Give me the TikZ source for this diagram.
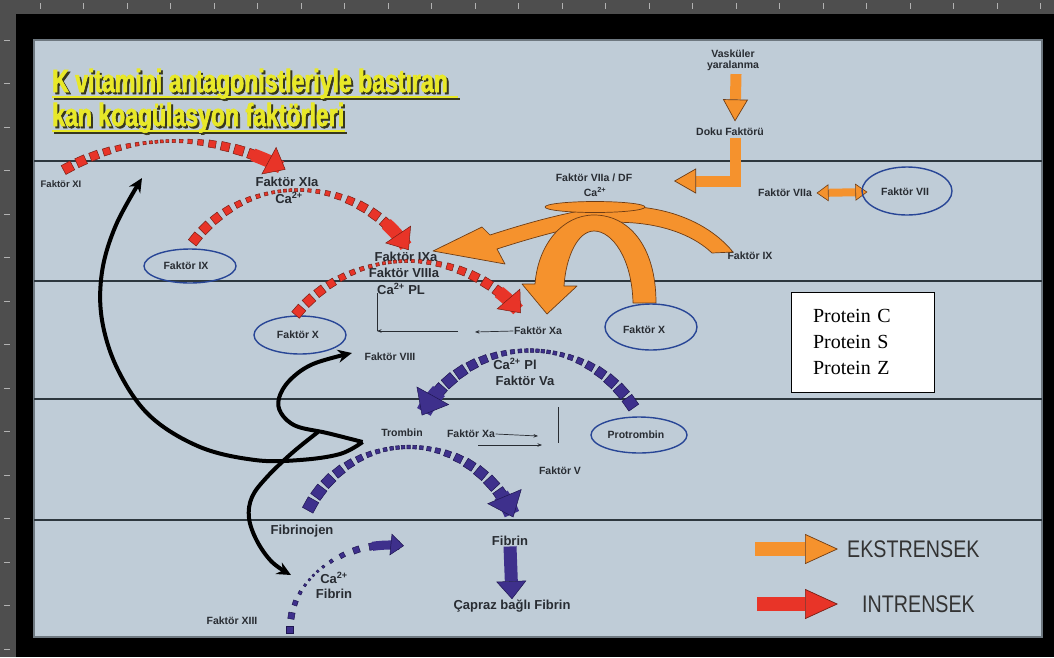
\documentclass[tikz,border=0pt]{standalone}
\usepackage{fontspec}
\setmainfont{Liberation Sans}
\newfontfamily\serifface{Liberation Serif}
\newfontfamily\titleface[FakeStretch=0.72, BoldFeatures={FakeBold=2}]{Liberation Sans}
\newfontfamily\legendface[FakeStretch=0.82]{Liberation Sans}
\usetikzlibrary{arrows.meta, calc, positioning}

\definecolor{panelbg}{RGB}{191,204,215}
\definecolor{panelrim}{RGB}{110,120,128}
\definecolor{rulergray}{RGB}{78,78,78}
\definecolor{gridline}{RGB}{45,55,62}
\definecolor{beadred}{RGB}{232,52,40}
\definecolor{beadrededge}{RGB}{120,30,20}
\definecolor{beadblue}{RGB}{62,48,140}
\definecolor{beadblueedge}{RGB}{30,22,80}
\definecolor{extorange}{RGB}{245,146,45}
\definecolor{extorangeedge}{RGB}{110,60,20}
\definecolor{ringblue}{RGB}{40,70,150}
\definecolor{labelgray}{RGB}{40,44,50}
\definecolor{titleyellow}{RGB}{232,232,40}
\definecolor{titleshadow}{RGB}{55,55,30}

\tikzset{
  smalllbl/.style={font=\bfseries\fontsize{10.5}{11}\selectfont, text=labelgray, inner sep=0.5pt},
  medlbl/.style={font=\bfseries\fontsize{13}{13.5}\selectfont, text=labelgray, inner sep=0.5pt},
  ring/.style={draw=ringblue, line width=1.4pt},
  hline/.style={draw=gridline, line width=1.6pt},
  bead/.style={rectangle, inner sep=0pt, fill=#1, draw=#1edge, line width=0.5pt},
  feedback/.style={line width=4pt, black, -{Stealth[length=14pt,width=13pt]}},
  thinarrow/.style={line width=0.7pt, labelgray, -{Stealth[length=4.5pt,width=3.5pt]}},
  thinline/.style={line width=0.7pt, labelgray},
  extshape/.style={fill=extorange, draw=extorangeedge, line width=0.7pt, line join=round},
  blockflow/.style={line width=11pt, extorange,
    -{Triangle[length=22pt,width=25pt,fill=extorange,color=extorangeedge,line width=0.7pt]}},
  titletext/.style={anchor=base west, inner sep=0pt, text height=21pt, text depth=0pt, text=#1,
    font=\titleface\bfseries\fontsize{32}{32}\selectfont},
}

% dotted arc: centre, radii, first angle, last bead, tip angle, colour, biggest bead
\newcommand{\beadarc}[9]{%
  \pgfmathtruncatemacro\nbead{abs(#6-#5)/180*3.1416*(#3+#4)/20}
  \foreach \i in {0,...,\nbead}{
    \pgfmathsetmacro\beadt{\i/\nbead}
    \pgfmathsetmacro\beada{#5+(#6-#5)*(\beadt+0.47*sin(360*\beadt)/6.2832)}
    \pgfmathsetmacro\beadw{(1+cos(360*\beadt))/2}
    \pgfmathsetmacro\beads{#9*(0.3+0.7*\beadw*\beadw)}
    \node[bead=#8, minimum size=\beads pt, rotate=\beada] at ({#1+#3*cos(\beada)},{#2-#4*sin(\beada)}) {};
  }
  \pgfmathsetmacro\beadlw{#9*1.3}
  \pgfmathsetmacro\beadhl{#9*1.9}
  \pgfmathsetmacro\beadhw{#9*3.1}
  \draw[line width=\beadlw pt, #8, -{Triangle[length=\beadhl pt,width=\beadhw pt,fill=#8,color=#8edge,line width=0.5pt]}]
    plot[variable=\beadu, domain=0:1, samples=8] ({#1+#3*cos(#6+(#7-#6)*\beadu)},{#2-#4*sin(#6+(#7-#6)*\beadu)});
}

\begin{document}
\begin{tikzpicture}[x=1pt, y=-1pt]
\useasboundingbox (0,0) rectangle (1054,657);

% screen frame and rulers
\fill[black] (0,0) rectangle (1054,657);
\fill[rulergray] (0,0) rectangle (1054,14);
\fill[rulergray] (0,0) rectangle (16,657);
\foreach \k in {0,...,23} \draw[gray!60, line width=0.6pt] ({40+43.5*\k},3) -- ++(0,6);
\foreach \k in {0,...,14} \draw[gray!60, line width=0.6pt] (4,{40+43.5*\k}) -- ++(6,0);
\draw[fill=panelbg, draw=panelrim, line width=2pt] (34,40) rectangle (1042,637);

% lanes
\foreach \yy in {161,281,399,520} \draw[hline] (34,\yy) -- (1042,\yy);

% title
\foreach \dx/\col in {2/titleshadow, 0/titleyellow}{
  \node[titletext=\col] at (52+\dx,92+\dx) {K vitamini antagonistleriyle bastıran};
  \node[titletext=\col] at (52+\dx,126+\dx) {kan koagülasyon faktörleri};
  \draw[\col, line width=2.4pt] (52+\dx,97+\dx) -- (458+\dx,97+\dx);
  \draw[\col, line width=2.4pt] (52+\dx,131+\dx) -- (345+\dx,131+\dx);
}

% extrinsic branch
\node[smalllbl, align=center] (vasc) at (733,60) {Vasküler\\yaralanma};
\node[smalllbl] (doku) at (730,132) {Doku Faktörü};
\node[smalllbl] (f7adf) at (594,178) {Faktör VIIa / DF};
\node[smalllbl] (ca0) at (595,192) {Ca\textsuperscript{2+}};
\node[smalllbl] (f7a) at (785,193) {Faktör VIIa};
\node[smalllbl] (f7) at (905,192) {Faktör VII};
\node[smalllbl] (f9r) at (750,256) {Faktör IX};
\coordinate (lturn) at (674,181);

\draw[blockflow] ($(vasc.south)+(3,3)$) -- ($(doku.north)+(5,-6)$);
\draw[blockflow, line join=miter] ($(doku.south)+(5,1)$) |- (lturn);
\draw[line width=8pt, extorange,
  {Triangle[length=12pt,width=17pt,fill=extorange,color=extorangeedge,line width=0.6pt]}-{Triangle[length=12pt,width=17pt,fill=extorange,color=extorangeedge,line width=0.6pt]}]
  ($(f7a.east)+(4,0)$) -- ($(f7.west)+(-13,0)$);

% orange sweeps from the VIIa/DF complex
\draw[extshape] (733,252) .. controls (700,212) and (640,200) .. (590,209)
  .. controls (550,216) and (515,227) .. (490,235) -- (482,227) -- (433,251) -- (505,264) -- (497,249)
  .. controls (525,240) and (565,228) .. (600,223) .. controls (650,219) and (690,232) .. (712,253) -- cycle;
\draw[extshape] (656,303) .. controls (656,245) and (628,215) .. (594,215)
  .. controls (562,215) and (538,245) .. (535,284) -- (522,284) -- (547,314) -- (577,286) -- (564,286)
  .. controls (566,256) and (578,231) .. (594,231) .. controls (612,231) and (632,258) .. (633,303) -- cycle;
\draw[extshape] (595,207) ellipse [x radius=50, y radius=5.5];

% intrinsic labels
\node[smalllbl, font=\bfseries\fontsize{9.5}{10}\selectfont] (f11) at (61,184) {Faktör XI};
\node[medlbl] (f11a) at (287,182) {Faktör XIa};
\node[medlbl] (ca1) at (289,198) {Ca\textsuperscript{2+}};
\node[smalllbl] (f9) at (186,266) {Faktör IX};
\node[medlbl] (f9a) at (406,257) {Faktör IXa};
\node[medlbl] (f8a) at (404,273) {Faktör VIIIa};
\node[medlbl] (capl) at (401,289) {Ca\textsuperscript{2+} PL};
\node[smalllbl] (f10) at (298,335) {Faktör X};
\node[smalllbl] (f10a) at (538,331) {Faktör Xa};
\node[smalllbl] (f10r) at (644,330) {Faktör X};
\node[smalllbl] (f8) at (390,357) {Faktör VIII};

% common pathway labels
\node[medlbl] (capl2) at (515,364) {Ca\textsuperscript{2+} Pl};
\node[medlbl] (f5a) at (525,381) {Faktör Va};
\node[smalllbl] (trombin) at (402,433) {Trombin};
\node[smalllbl] (fxa) at (471,434) {Faktör Xa};
\node[smalllbl] (protrombin) at (636,435) {Protrombin};
\node[smalllbl] (f5) at (560,471) {Faktör V};
\node[medlbl] (fibrinojen) at (302,531) {Fibrinojen};
\node[medlbl] (fibrin) at (510,541) {Fibrin};
\node[medlbl] (capraz) at (512,606) {Çapraz bağlı Fibrin};
\node[medlbl] (ca3) at (334,578) {Ca\textsuperscript{2+}};
\node[medlbl] (fibrin2) at (334,594) {Fibrin};
\node[smalllbl] (f13) at (232,621) {Faktör XIII};

% rings round the vitamin K dependent factors
\draw[ring] (f7.center) ++(2,-1) ellipse [x radius=45, y radius=24];
\draw[ring] (f9.center) ++(4,0) ellipse [x radius=46, y radius=17];
\draw[ring] (f10.center) ++(2,0) ellipse [x radius=46, y radius=19];
\draw[ring] (f10r.center) ++(7,-3) ellipse [x radius=46, y radius=23];
\draw[ring] (protrombin.center) ++(3,0) ellipse [x radius=48, y radius=18];

% dotted cascade arcs
\beadarc{175}{369}{228}{228}{118}{70}{61}{beadred}{10}
\beadarc{298}{322}{132}{132}{141}{48}{33}{beadred}{10}
\beadarc{409}{407}{146}{146}{139}{52}{40}{beadred}{10}
\beadarc{530}{473}{122.5}{122.5}{35}{138}{152}{beadblue}{12}
\beadarc{409}{559.5}{112.5}{112.5}{151}{35}{22}{beadblue}{12}
\beadarc{390}{630}{100}{85}{180}{100}{82}{beadblue}{7}

\draw[line width=13pt, beadblue,
  -{Triangle[length=18pt,width=30pt,fill=beadblue,color=beadblueedge,line width=0.5pt]}]
  (fibrin.south) -- (capraz.north);

% thin reaction arrows
\coordinate (xacorner) at (377,331);
\draw[thinline] (xacorner) -- (377,293);
\draw[thinarrow] (458,331) -- (xacorner);
\draw[thinarrow] (f10a.west) -- (475,332);
\draw[thinarrow] (fxa.east) -- (538,436);
\draw[thinarrow] (478,445) -- (542,445);
\draw[thinline] (558,407) -- (558,443);

% thrombin feedback
\coordinate (tromloop) at ($(trombin.west)+(-18,9)$);
\coordinate (loopknot) at (318,432);
\coordinate (toxi) at (142,178);
\coordinate (toviii) at ($(f8.west)+(-12,-4)$);
\coordinate (toxiii) at (291,575);
\draw[feedback] plot[smooth, tension=0.6] coordinates {(tromloop) (340,454) (300,460) (255,460) (200,447) (150,416) (118,370) (102,320) (102,272) (116,225) (toxi)};
\draw[feedback] plot[smooth, tension=0.6] coordinates {(tromloop) (327,433) (296,426) (281,413) (279,398) (290,380) (313,364) (toviii)};
\draw[feedback] plot[smooth, tension=0.6] coordinates {(loopknot) (292,453) (267,477) (252,497) (249,518) (257,541) (272,562) (toxiii)};

% anticoagulant proteins
\node[draw=black, fill=white, line width=0.8pt, align=left, text width=99pt, inner xsep=22pt,
  minimum height=100pt, font=\serifface\fontsize{20}{26}\selectfont] (proteins) at (862.5,342)
  {Protein C\\Protein S\\Protein Z};

% legend
\node[anchor=west, inner sep=0pt, text=black!80, font=\legendface\fontsize{24}{24}\selectfont] (ekst) at (847,549) {EKSTRENSEK};
\node[anchor=west, inner sep=0pt, text=black!80, font=\legendface\fontsize{24}{24}\selectfont] (intr) at (862,604) {INTRENSEK};
\draw[line width=14pt, extorange,
  -{Triangle[length=33pt,width=30pt,fill=extorange,color=extorangeedge,line width=0.7pt]}]
  ($(ekst.west)+(-92,0)$) -- ($(ekst.west)+(-9,0)$);
\draw[line width=14pt, beadred,
  -{Triangle[length=33pt,width=30pt,fill=beadred,color=beadrededge,line width=0.7pt]}]
  ($(intr.west)+(-105,0)$) -- ($(intr.west)+(-24,0)$);
\end{tikzpicture}
\end{document}
